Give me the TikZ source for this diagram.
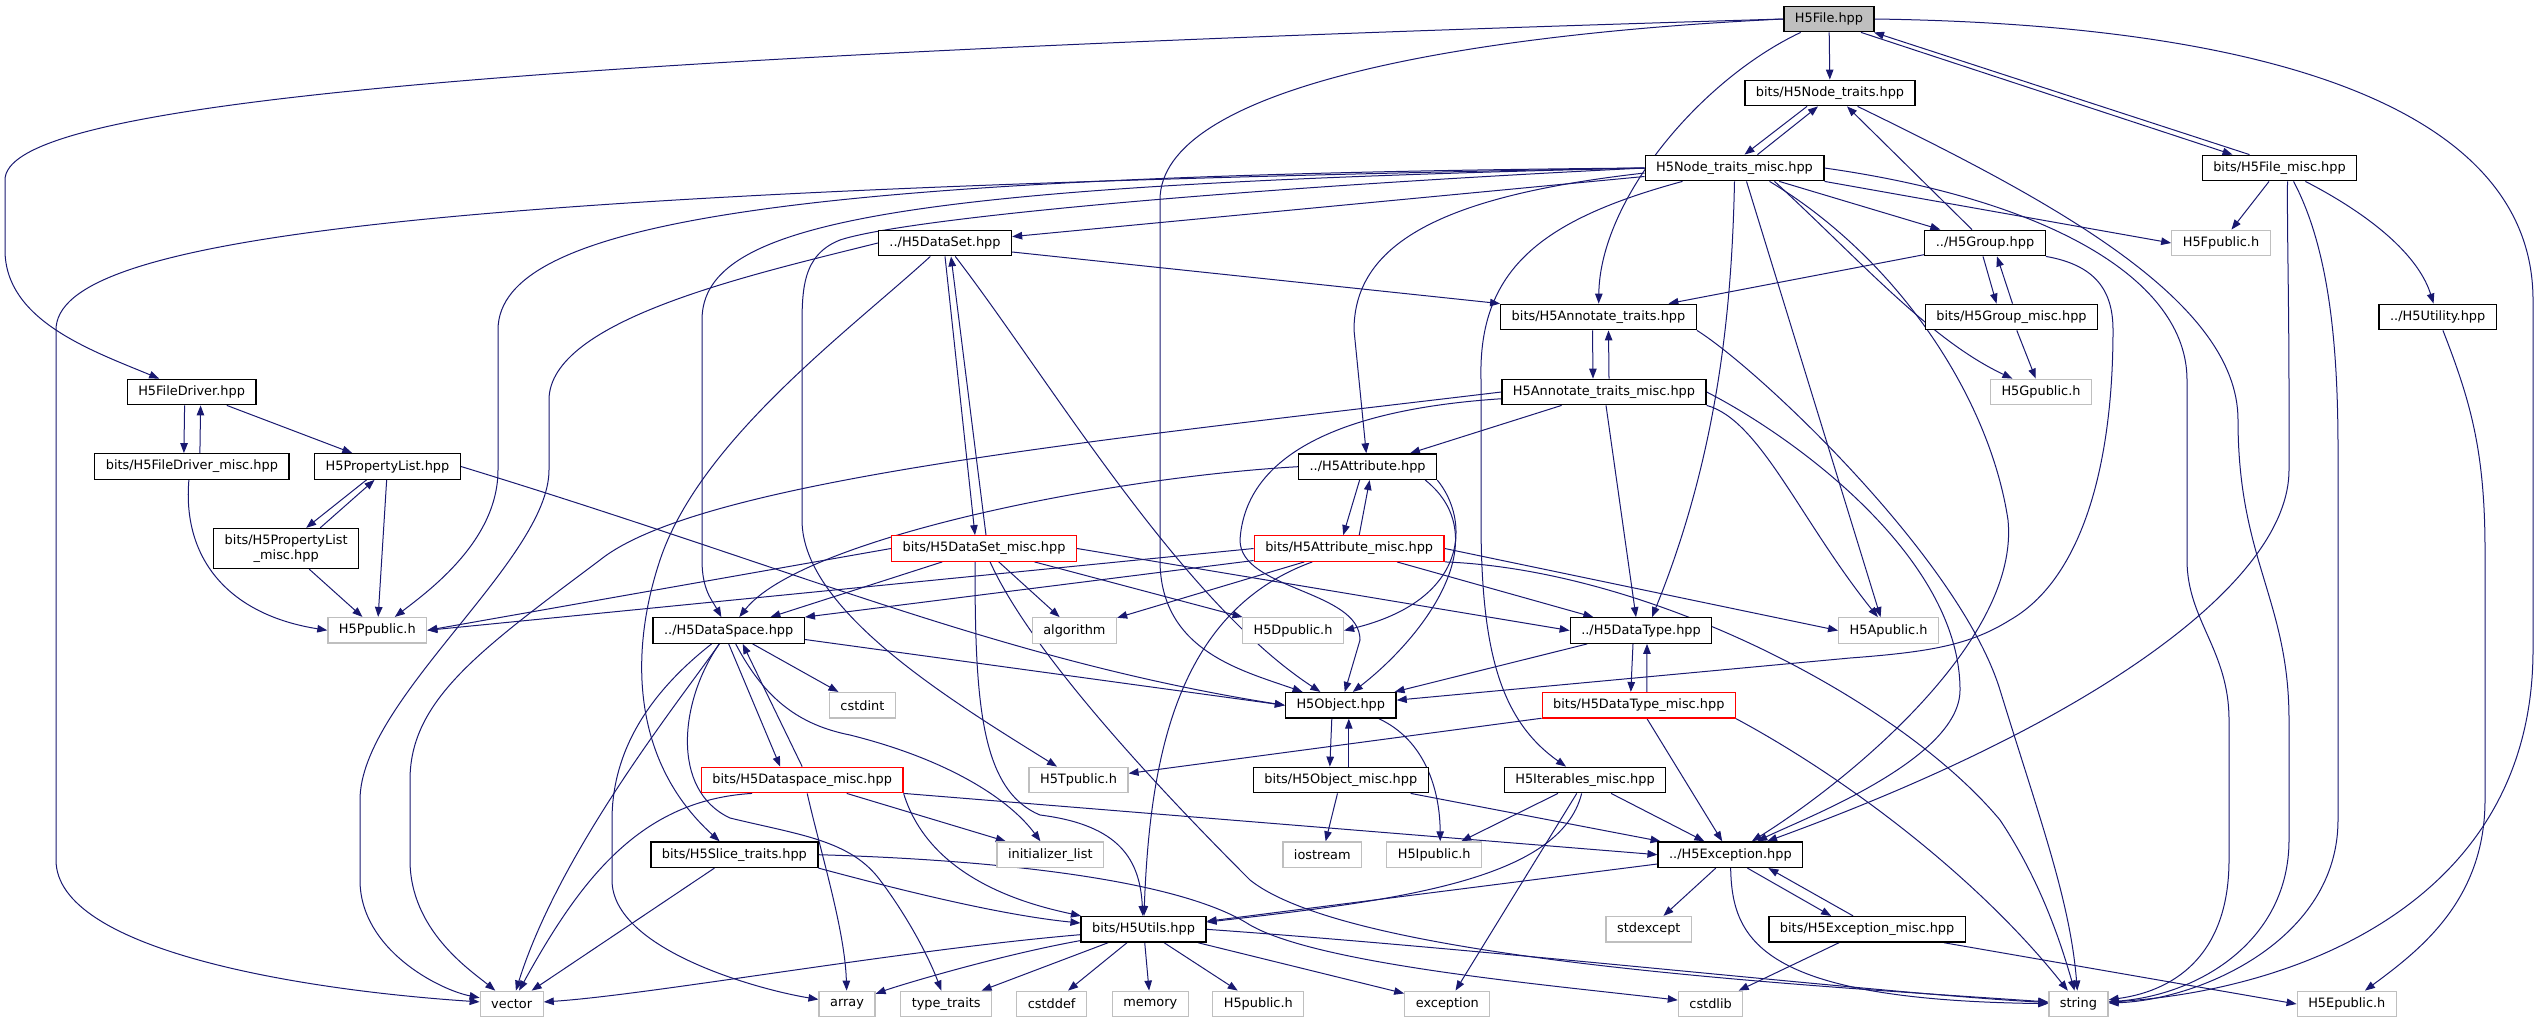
\documentclass[tikz,border=0pt]{standalone}
\usepackage{fontspec}
\setmainfont{DejaVu Sans}
\usepackage{tikz}
\usetikzlibrary{arrows.meta}
\definecolor{edgeblue}{RGB}{25,25,112}
\definecolor{sysgray}{RGB}{191,191,191}
\definecolor{misred}{RGB}{255,0,0}
\pgfdeclarelayer{edges}
\pgfsetlayers{edges,main}
\tikzset{
  line/.style = {-{Triangle[length=10pt,width=7.5pt]}, draw=edgeblue, line width=1pt},
  box/.style  = {draw=black, line width=1.3pt, fill=white, align=center, inner xsep=11pt, inner ysep=2pt,
                 minimum height=25.5pt, font=\fontsize{12.9}{15}\selectfont},
  sysbox/.style  = {box, draw=sysgray},
  redbox/.style  = {box, draw=misred},
  rootbox/.style = {box, fill=sysgray},
}
\begin{document}
\begin{tikzpicture}[x=1pt, y=-1pt]
  \useasboundingbox (0,0) rectangle (2537,1023);
  \node[rootbox] (file) at (1829,19) {H5File.hpp};
  \node[box] (nodetr) at (1830,93) {bits/H5Node\_traits.hpp};
  \node[box] (nodemisc) at (1734.5,168) {H5Node\_traits\_misc.hpp};
  \node[box] (filemisc) at (2279.5,168) {bits/H5File\_misc.hpp};
  \node[box] (dataset) at (945,243) {../H5DataSet.hpp};
  \node[box] (group) at (1985,243) {../H5Group.hpp};
  \node[sysbox] (fpub) at (2221,243) {H5Fpublic.h};
  \node[box] (annot) at (1598.5,317) {bits/H5Annotate\_traits.hpp};
  \node[box] (groupmisc) at (2011.5,317) {bits/H5Group\_misc.hpp};
  \node[box] (utility) at (2437.7,317) {../H5Utility.hpp};
  \node[box] (fdriver) at (191.6,392) {H5FileDriver.hpp};
  \node[box] (annotmisc) at (1604,392) {H5Annotate\_traits\_misc.hpp};
  \node[sysbox] (gpub) at (2041,392) {H5Gpublic.h};
  \node[box] (fdrivermisc) at (191.9,466.5) {bits/H5FileDriver\_misc.hpp};
  \node[box] (plist) at (387.5,466.5) {H5PropertyList.hpp};
  \node[box] (attr) at (1367.6,466.7) {../H5Attribute.hpp};
  \node[box, minimum height=40pt] (plistmisc) at (286.2,548.5) {bits/H5PropertyList\\\_misc.hpp};
  \node[redbox] (datasetmisc) at (984,548.5) {bits/H5DataSet\_misc.hpp};
  \node[redbox] (attrmisc) at (1349.2,548.5) {bits/H5Attribute\_misc.hpp};
  \node[sysbox] (ppub) at (377.3,630.3) {H5Ppublic.h};
  \node[box] (dspace) at (728.7,630.5) {../H5DataSpace.hpp};
  \node[sysbox] (algorithm) at (1074.4,630.5) {algorithm};
  \node[sysbox] (dpub) at (1293,630.5) {H5Dpublic.h};
  \node[box] (dtype) at (1641,630.5) {../H5DataType.hpp};
  \node[sysbox] (apub) at (1888.6,630.5) {H5Apublic.h};
  \node[sysbox] (cstdint) at (862.4,705.3) {cstdint};
  \node[box] (object) at (1340.8,705.3) {H5Object.hpp};
  \node[redbox] (dtypemisc) at (1638.8,705.3) {bits/H5DataType\_misc.hpp};
  \node[redbox] (dspacemisc) at (802.2,780) {bits/H5Dataspace\_misc.hpp};
  \node[sysbox] (tpub) at (1078.5,780) {H5Tpublic.h};
  \node[box] (objmisc) at (1340.8,780) {bits/H5Object\_misc.hpp};
  \node[box] (itermisc) at (1585,780) {H5Iterables\_misc.hpp};
  \node[box] (slice) at (734.4,854.7) {bits/H5Slice\_traits.hpp};
  \node[sysbox] (initlist) at (1050.3,854.7) {initializer\_list};
  \node[sysbox] (iostream) at (1322.3,854.7) {iostream};
  \node[sysbox] (ipub) at (1434.2,854.7) {H5Ipublic.h};
  \node[box] (except) at (1730.4,854.7) {../H5Exception.hpp};
  \node[box] (utils) at (1143.5,929.3) {bits/H5Utils.hpp};
  \node[sysbox] (stdexcept) at (1648.8,929.3) {stdexcept};
  \node[box] (exceptmisc) at (1867.1,929.3) {bits/H5Exception\_misc.hpp};
  \node[sysbox] (vector) at (511.7,1004) {vector};
  \node[sysbox] (array) at (847,1004) {array};
  \node[sysbox] (typetraits) at (946.2,1004) {type\_traits};
  \node[sysbox] (cstddef) at (1051.6,1004) {cstddef};
  \node[sysbox] (memory) at (1150.3,1004) {memory};
  \node[sysbox] (hpub) at (1258.3,1004) {H5public.h};
  \node[sysbox] (exception) at (1447.3,1004) {exception};
  \node[sysbox] (cstdlib) at (1710.6,1004) {cstdlib};
  \node[sysbox] (string) at (2078.4,1004) {string};
  \node[sysbox] (epub) at (2346.8,1004) {H5Epublic.h};

  \begin{pgfonlayer}{edges}
  % H5File.hpp
  \draw[line] (file.west) .. controls (400,60) and (5,110) .. (5,180) -- (5,250) .. controls (5,320) and (90,350) .. (fdriver);
  \draw[line] (file) -- (nodetr);
  \draw[line] ([xshift=32pt]file.south) -- ([xshift=-47pt]filemisc.north);
  \draw[line] ([xshift=-30pt]filemisc.north) -- ([xshift=45pt]file.south);
  \draw[line] (file.east) .. controls (2300,25) and (2533,120) .. (2533,300) -- (2533,650) .. controls (2533,900) and (2300,990) .. (string);
  \draw[line] (file.west) .. controls (1450,35) and (1160,90) .. (1160,200) -- (1160,560) .. controls (1160,650) and (1240,670) .. (object);
  \draw[line] (file) .. controls (1700,80) and (1600,200) .. (annot);
  % node traits
  \draw[line] ([xshift=-23pt]nodetr.south) -- ([xshift=10pt]nodemisc.north);
  \draw[line] ([xshift=23pt]nodemisc.north) -- ([xshift=-12pt]nodetr.south);
  \draw[line] (nodetr) .. controls (2050,200) and (2238,300) .. (2238,420) .. controls (2238,560) and (2289,600) .. (2289,720) -- (2289,840) .. controls (2289,940) and (2200,995) .. (string);
  \draw[line] ([xshift=-13pt]group.north) -- ([xshift=17pt]nodetr.south);
  \draw[line] (group) -- (annot);
  \draw[line] ([xshift=-2pt]group.south) -- ([xshift=-15pt]groupmisc.north);
  \draw[line] ([xshift=1pt]groupmisc.north) -- ([xshift=12pt]group.south);
  \draw[line] (group.south east) .. controls (2095,265) and (2113,290) .. (2113,330) .. controls (2113,470) and (2080,580) .. (2010,620) .. controls (1970,645) and (1930,652) .. (1850,658) -- (object);
  \draw[line] (groupmisc) -- (gpub);
  % file misc
  \draw[line] (filemisc) -- (fpub);
  \draw[line] (filemisc) .. controls (2380,220) and (2420,260) .. (utility);
  \draw[line] ([xshift=8pt]filemisc.south) .. controls (2287,230) and (2289,300) .. (2289,400) -- (2289,470) .. controls (2289,580) and (2100,720) .. (except);
  \draw[line] ([xshift=14pt]filemisc.south) .. controls (2330,250) and (2338,350) .. (2338,450) -- (2338,820) .. controls (2338,940) and (2200,1000) .. (string);
  \draw[line] (utility) .. controls (2470,400) and (2485,450) .. (2485,550) -- (2485,800) .. controls (2485,900) and (2420,950) .. (epub);
  % node traits misc
  \draw[line] (nodemisc) -- (dataset);
  \draw[line] (nodemisc) -- (group);
  \draw[line] (nodemisc.south east) -- (fpub.west);
  \draw[line] ([xshift=40pt]nodemisc.south) .. controls (1860,260) and (1930,340) .. (gpub);
  \draw[line] ([xshift=12pt]nodemisc.south) -- ([xshift=-8pt]apub.north);
  \draw[line] (nodemisc.south) .. controls (1732,300) and (1720,450) .. ([xshift=11pt]dtype.north);
  \draw[line] (nodemisc.east) .. controls (2050,200) and (2187,280) .. (2187,380) -- (2187,560) .. controls (2187,620) and (2229,650) .. (2229,720) -- (2229,860) .. controls (2229,950) and (2180,990) .. (string);
  \draw[line] ([xshift=35pt]nodemisc.south) .. controls (1900,260) and (1990,400) .. (2008,520) .. controls (2020,640) and (1850,780) .. (except);
  \draw[line] ([xshift=-52pt]nodemisc.south) .. controls (1540,220) and (1478,270) .. (1481,380) -- (1481,520) .. controls (1481,650) and (1500,720) .. (itermisc);
  \draw[line] ([yshift=-5pt]nodemisc.west) .. controls (1450,195) and (1354,240) .. (1354,330) -- (attr);
  \draw[line] (nodemisc.west) .. controls (900,185) and (702,220) .. (702,320) -- (702,560) .. controls (702,590) and (712,600) .. (dspace);
  \draw[line] (nodemisc.west) .. controls (800,175) and (498,220) .. (498,330) -- (498,470) .. controls (498,540) and (430,590) .. (ppub);
  \draw[line] (nodemisc.west) .. controls (400,190) and (56,240) .. (56,330) -- (56,860) .. controls (56,950) and (300,990) .. (vector);
  \draw[line] (nodemisc.west) .. controls (1200,190) and (900,220) .. (840,240) .. controls (802,255) and (802,290) .. (802,330) -- (802,520) .. controls (802,610) and (950,700) .. (tpub);
  % data set
  \draw[line] ([yshift=-9pt]dataset.east) -- (annot.north west);
  \draw[line] (dataset.west) .. controls (750,275) and (549,320) .. (549,400) -- (549,470) .. controls (549,560) and (360,700) .. (360,800) -- (360,880) .. controls (360,950) and (440,990) .. (vector);
  \draw[line] (dataset.south) -- ([xshift=-9pt]datasetmisc.north);
  \draw[line] ([xshift=2pt]datasetmisc.north) -- ([xshift=6pt]dataset.south);
  \draw[line] (dataset) .. controls (850,330) and (700,440) .. (660,560) .. controls (630,650) and (630,760) .. (slice);
  \draw[line] (dataset) .. controls (1050,380) and (1180,600) .. (object);
  \draw[line] (datasetmisc.west) -- (ppub.east);
  \draw[line] (datasetmisc) -- (dspace);
  \draw[line] (datasetmisc) -- (algorithm);
  \draw[line] (datasetmisc) -- (dpub);
  \draw[line] (datasetmisc.east) -- (dtype.west);
  \draw[line] ([xshift=-9pt]datasetmisc.south) .. controls (975,700) and (980,790) .. (1040,815) .. controls (1120,825) and (1140,860) .. (utils);
  \draw[line] (datasetmisc) .. controls (1030,650) and (1150,780) .. (1250,880) .. controls (1350,960) and (1800,985) .. (string);
  % attribute
  \draw[line] ([xshift=-8pt]attr.south) -- ([xshift=-6pt]attrmisc.north);
  \draw[line] ([xshift=10pt]attrmisc.north) -- ([xshift=2pt]attr.south);
  \draw[line] (attr.south east) .. controls (1470,520) and (1470,600) .. (dpub.east);
  \draw[line] ([xshift=-12pt]attr.south east) .. controls (1500,540) and (1420,640) .. ([xshift=12pt]object.north);
  \draw[line] (attr.west) .. controls (1100,478) and (800,540) .. (dspace);
  \draw[line] (attrmisc.west) -- (ppub.east);
  \draw[line] (attrmisc) -- (dspace.north east);
  \draw[line] (attrmisc) -- (algorithm);
  \draw[line] (attrmisc) -- (dtype);
  \draw[line] (attrmisc.east) -- (apub.west);
  \draw[line] (attrmisc.south east) .. controls (1650,570) and (1900,700) .. (2000,820) .. controls (2040,880) and (2060,940) .. (string);
  \draw[line] (attrmisc) .. controls (1180,610) and (1150,750) .. (utils);
  % data space
  \draw[line] (dspace) .. controls (680,700) and (560,850) .. (vector);
  \draw[line] ([yshift=-9pt]dspace.east) -- (object.west);
  \draw[line] (dspace) -- (cstdint);
  \draw[line] (dspace.south) -- ([xshift=-22pt]dspacemisc.north);
  \draw[line] (dspacemisc.north) -- ([xshift=14pt]dspace.south);
  \draw[line] (dspace) .. controls (765,700) and (800,725) .. (850,735) .. controls (950,760) and (1010,800) .. (initlist);
  \draw[line] (dspace) .. controls (640,700) and (612,760) .. (612,820) -- (612,880) .. controls (612,950) and (760,990) .. (array);
  \draw[line] (dspace) .. controls (680,700) and (670,790) .. (730,818) .. controls (800,835) and (850,840) .. (880,880) .. controls (910,920) and (930,960) .. (typetraits);
  \draw[line] ([xshift=-50pt]dspacemisc.south) .. controls (640,800) and (580,880) .. (vector);
  \draw[line] (dspacemisc) -- (initlist);
  \draw[line] ([xshift=5pt]dspacemisc.south) .. controls (820,850) and (845,930) .. (array);
  \draw[line] (dspacemisc.south east) .. controls (930,880) and (1030,905) .. (utils);
  \draw[line] (dspacemisc.south east) -- (except.west);
  % slice, utils
  \draw[line] (slice) -- (vector);
  \draw[line] (slice.south east) .. controls (900,890) and (1000,915) .. (utils);
  \draw[line] (slice.east) .. controls (1000,860) and (1180,880) .. (1250,925) .. controls (1320,965) and (1550,985) .. (cstdlib);
  \draw[line] (utils) .. controls (900,950) and (650,995) .. (vector);
  \draw[line] (utils) .. controls (1000,955) and (900,985) .. (array);
  \draw[line] (utils) -- (typetraits);
  \draw[line] (utils) -- (cstddef);
  \draw[line] (utils) -- (memory);
  \draw[line] (utils) -- (hpub);
  \draw[line] (utils) -- (exception);
  \draw[line] (utils.east) .. controls (1500,950) and (1900,995) .. (string);
  % exception
  \draw[line] (except) -- (stdexcept);
  \draw[line] (except) .. controls (1732,940) and (1760,1000) .. (string);
  \draw[line] (except) -- (utils);
  \draw[line] ([xshift=17pt]except.south) -- ([xshift=-36pt]exceptmisc.north);
  \draw[line] ([xshift=-14pt]exceptmisc.north) -- ([xshift=38pt]except.south);
  \draw[line] (exceptmisc) -- (cstdlib);
  \draw[line] ([xshift=-22pt]exceptmisc.south east) -- (epub.west);
  % object
  \draw[line] ([xshift=-9pt]object.south) -- ([xshift=-11pt]objmisc.north);
  \draw[line] ([xshift=8pt]objmisc.north) -- ([xshift=8pt]object.south);
  \draw[line] ([xshift=38pt]object.south) .. controls (1425,740) and (1440,790) .. ([xshift=6pt]ipub.north);
  \draw[line] (objmisc) -- (iostream);
  \draw[line] (objmisc) -- (except);
  \draw[line] (itermisc) -- (ipub);
  \draw[line] (itermisc) -- (except);
  \draw[line] (itermisc) .. controls (1560,880) and (1400,900) .. (utils);
  \draw[line] (itermisc) -- (exception);
  % data type
  \draw[line] (dtype) -- (object);
  \draw[line] ([xshift=-8pt]dtype.south) -- ([xshift=-8pt]dtypemisc.north);
  \draw[line] ([xshift=8pt]dtypemisc.north) -- ([xshift=6pt]dtype.south);
  \draw[line] (dtypemisc) -- (tpub);
  \draw[line] (dtypemisc) -- (except);
  \draw[line] (dtypemisc.south east) .. controls (1850,780) and (1980,880) .. (string);
  % annotate traits
  \draw[line] ([xshift=-6pt]annot.south) -- ([xshift=-11pt]annotmisc.north);
  \draw[line] ([xshift=5pt]annotmisc.north) -- ([xshift=10pt]annot.south);
  \draw[line] (annot.south east) .. controls (1760,370) and (1960,560) .. (2000,690) .. controls (2040,820) and (2070,900) .. (string);
  \draw[line] (annotmisc) -- (attr);
  \draw[line] ([xshift=2pt]annotmisc.south) -- ([xshift=-5pt]dtype.north);
  \draw[line] (annotmisc.south east) .. controls (1760,420) and (1800,520) .. (apub);
  \draw[line] (annotmisc) .. controls (1330,410) and (1245,460) .. (1240,540) .. controls (1240,590) and (1360,590) .. (1360,640) -- (object);
  \draw[line] (annotmisc.west) .. controls (1100,440) and (700,480) .. (600,560) .. controls (480,650) and (410,700) .. (410,780) -- (410,860) .. controls (410,930) and (470,970) .. (vector);
  \draw[line] (annotmisc.east) .. controls (1800,440) and (1960,560) .. (1960,690) .. controls (1960,760) and (1800,820) .. (except);
  % property list, file driver
  \draw[line] (plist) -- (ppub);
  \draw[line] ([xshift=-21pt]plist.south) -- ([xshift=20pt]plistmisc.north);
  \draw[line] ([xshift=34pt]plistmisc.north) -- ([xshift=-13pt]plist.south);
  \draw[line] (plist.east) .. controls (800,570) and (1000,660) .. (object.west);
  \draw[line] (plistmisc) -- (ppub);
  \draw[line] (fdriver) -- (plist);
  \draw[line] ([xshift=-7pt]fdriver.south) -- ([xshift=-8pt]fdrivermisc.north);
  \draw[line] ([xshift=8pt]fdrivermisc.north) -- ([xshift=9pt]fdriver.south);
  \draw[line] ([xshift=-3pt]fdrivermisc.south) .. controls (182,560) and (230,615) .. (ppub.west);
  \end{pgfonlayer}
\end{tikzpicture}
\end{document}
